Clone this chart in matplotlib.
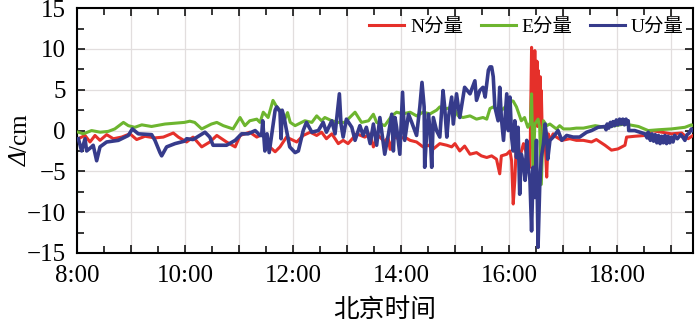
import matplotlib
matplotlib.use("Agg")
import matplotlib.pyplot as plt
from matplotlib.ticker import MultipleLocator, FixedLocator, FixedFormatter

plt.rcParams['font.family'] = ['Liberation Serif', 'Noto Sans CJK SC']
plt.rcParams['axes.unicode_minus'] = True

# ---------------- data (time in hours, value in cm) ----------------
n_time = [8.025, 8.148, 8.241, 8.333, 8.426, 8.549, 8.673, 8.827, 8.981, 9.105, 9.259, 9.444, 9.599,
          9.784, 9.877, 10.03, 10.15, 10.31, 10.46, 10.59, 10.77, 10.93, 11.02, 11.20, 11.33, 11.45,
          11.57, 11.67, 11.76, 11.88, 12.07, 12.19, 12.32, 12.44, 12.53, 12.62, 12.72, 12.84, 12.93,
          13.02, 13.18, 13.33, 13.43, 13.49, 13.58, 13.70, 13.76, 13.80, 13.86, 13.98, 14.07, 14.17,
          14.29, 14.41, 14.51, 14.60, 14.72, 14.85, 14.94, 15.00, 15.09, 15.18, 15.28, 15.40, 15.49,
          15.59, 15.68, 15.77, 15.83, 15.86, 15.96, 16.02, 16.05, 16.08, 16.11, 16.14, 16.20, 16.27,
          16.33, 16.39, 16.42, 16.43, 16.44, 16.45, 16.46, 16.47, 16.48, 16.49, 16.50, 16.51, 16.52,
          16.53, 16.54, 16.55, 16.56, 16.57, 16.58, 16.59, 16.60, 16.62, 16.64, 16.67, 16.70, 16.73,
          16.76, 16.82, 16.88, 16.98, 17.13, 17.25, 17.38, 17.53, 17.62, 17.78, 17.90, 18.02, 18.15,
          18.18, 18.33, 18.52, 18.64, 18.83, 19.01, 19.20, 19.32, 19.41]
n_vals = [-1.0, -0.6, -1.4, -0.6, -1.2, -0.5, -1.0, -0.8, -0.4, -1.1, -0.7, -0.9, -0.8,
          -0.3, -0.8, -1.4, -0.8, -2.0, -1.4, -0.6, -1.4, -2.0, -0.6, -0.2, -0.8, -0.4,
          -2.0, -2.6, -2.0, -0.8, -1.4, -0.6, -0.2, -0.6, -0.2, -1.0, -0.4, -1.6, -1.2,
          -1.6, -0.4, -0.8, -0.4, -2.0, -0.6, -1.4, -0.8, -2.3, -0.8, -1.0, -0.8, -1.2,
          -1.4, -2.0, -1.8, -2.25, -1.6, -1.8, -2.0, -1.6, -2.5, -1.9, -2.9, -2.7, -3.1,
          -3.3, -3.1, -3.5, -5.3, -3.1, -2.9, -2.5, -3.7, -9.0, -6.1, -1.2, -3.3, -1.6,
          -2.9, -4.5, 10.2, -2.0, 8.5, -1.0, 9.5, 0.0, 9.8, 1.0, 7.5, 2.9, 8.5,
          0.5, 7.4, 1.0, 6.5, 2.0, 6.6, 0.0, 4.9, -1.0, 0.8, -1.2, -5.7, -0.4,
          -1.2, -0.4, -0.8, -1.2, -1.0, -1.2, -1.2, -1.4, -1.1, -1.8, -2.4, -2.25, -1.8,
          -0.8, -0.7, -0.6, 0.0, -0.2, -0.4, -0.3, -1.0, -0.6]

e_time = [8.025, 8.117, 8.27, 8.43, 8.58, 8.70, 8.86, 8.95, 9.07, 9.20, 9.38, 9.63, 9.81, 9.99,
          10.09, 10.18, 10.31, 10.37, 10.49, 10.59, 10.71, 10.89, 11.02, 11.11, 11.20, 11.33,
          11.39, 11.45, 11.54, 11.63, 11.70, 11.76, 11.85, 11.90, 11.95, 12.04, 12.22, 12.35,
          12.44, 12.53, 12.59, 12.72, 12.84, 12.96, 13.15, 13.27, 13.40, 13.49, 13.55, 13.70,
          13.83, 13.92, 14.04, 14.17, 14.29, 14.41, 14.54, 14.66, 14.72, 14.78, 14.85, 14.97,
          15.06, 15.15, 15.28, 15.40, 15.52, 15.59, 15.65, 15.71, 15.77, 15.85, 15.95, 16.02,
          16.08, 16.14, 16.23, 16.29, 16.35, 16.40, 16.42, 16.45, 16.48, 16.54, 16.57, 16.60,
          16.64, 16.70, 16.76, 16.88, 16.94, 17.01, 17.13, 17.25, 17.38, 17.60, 17.78, 17.96,
          18.15, 18.40, 18.58, 18.77, 19.01, 19.26, 19.38, 19.41]
e_vals = [-0.2, -0.4, 0.0, -0.2, -0.1, 0.2, 1.0, 0.6, 0.4, 0.7, 0.5, 0.8, 0.9, 1.0,
          1.15, 1.0, 0.2, 0.4, 0.8, 1.0, 0.6, 0.2, 1.6, 0.6, 1.2, 1.4,
          1.0, 2.25, 1.6, 3.7, 2.9, 2.5, 1.4, 2.2, 1.0, 0.6, 1.2, 1.0,
          1.8, 1.2, 1.6, 1.2, 1.0, 1.0, 2.25, 1.0, 1.2, 2.0, 1.0, 0.6,
          1.8, 2.25, 2.05, 2.25, 1.8, 2.25, 2.05, 2.5, 2.9, 2.5, 2.7, 2.9,
          1.8, 1.6, 1.8, 1.4, 1.6, 1.4, 2.7, 2.9, 2.6, 2.4, 3.0, 3.7,
          3.6, 2.9, 1.2, 1.6, 0.4, 1.0, 4.5, -5.3, 0.8, 1.4, 0.4, -6.6,
          1.2, 0.6, 0.8, 0.2, 0.6, 0.2, 0.2, 0.3, 0.3, 0.6, 0.4, 0.6,
          0.8, 0.5, 0.0, 0.1, 0.2, 0.4, 0.7, 0.6]

u_time = [8.025, 8.086, 8.148, 8.179, 8.27, 8.30, 8.364, 8.426, 8.549, 8.765, 8.951, 9.025, 9.136,
          9.383, 9.444, 9.537, 9.568, 9.66, 9.815, 9.99, 10.03, 10.15, 10.37, 10.46, 10.52, 10.77,
          10.93, 11.05, 11.17, 11.30, 11.39, 11.42, 11.44, 11.48, 11.52, 11.56, 11.67, 11.70, 11.76,
          11.78, 11.80, 11.84, 11.87, 11.94, 12.04, 12.10, 12.19, 12.25, 12.35, 12.47, 12.56, 12.62,
          12.72, 12.78, 12.86, 12.89, 12.93, 12.99, 13.09, 13.15, 13.24, 13.30, 13.36, 13.43, 13.49,
          13.55, 13.61, 13.70, 13.77, 13.83, 13.86, 13.89, 13.92, 13.98, 14.03, 14.07, 14.14, 14.20,
          14.29, 14.35, 14.39, 14.43, 14.44, 14.48, 14.51, 14.54, 14.57, 14.60, 14.66, 14.72, 14.78,
          14.81, 14.85, 14.88, 14.94, 14.97, 15.03, 15.09, 15.18, 15.28, 15.37, 15.40, 15.46, 15.52,
          15.56, 15.62, 15.65, 15.68, 15.71, 15.74, 15.80, 15.83, 15.86, 15.90, 15.93, 15.96, 15.99,
          16.02, 16.05, 16.08, 16.11, 16.14, 16.17, 16.20, 16.23, 16.27, 16.30, 16.33, 16.36, 16.39,
          16.42, 16.45, 16.48, 16.51, 16.54, 16.57, 16.60, 16.64, 16.67, 16.70, 16.72, 16.76, 16.82,
          16.91, 16.98, 17.07, 17.19, 17.31, 17.44, 17.53, 17.65, 17.78, 17.80, 17.82, 17.85, 17.88,
          17.90, 17.93, 17.96, 17.99, 18.02, 18.05, 18.08, 18.11, 18.14, 18.17, 18.20, 18.21, 18.22,
          18.33, 18.52, 18.56, 18.58, 18.62, 18.65, 18.68, 18.71, 18.74, 18.77, 18.80, 18.83, 18.86,
          18.89, 18.92, 18.95, 18.98, 19.01, 19.04, 19.07, 19.12, 19.18, 19.22, 19.26, 19.30, 19.34,
          19.38, 19.41]
u_vals = [-1.0, -2.5, -1.0, -2.5, -2.0, -1.8, -3.7, -2.0, -1.4, -1.2, -0.6, 0.2, -0.4,
          -0.5, -1.2, -2.7, -3.1, -2.0, -1.6, -1.3, -1.0, -1.1, -0.2, -0.8, -1.8, -1.8,
          -1.2, -0.4, -0.4, 0.0, -0.6, -0.6, 1.2, -2.5, -0.4, -2.7, 2.5, 2.9, 2.3,
          -1.0, 2.5, 1.5, 0.4, -2.0, -2.7, -2.5, 0.0, 1.0, -0.2, 0.0, 1.0, -0.2,
          1.2, -0.4, 4.5, 0.8, -0.8, 1.4, 0.4, -1.2, 0.6, -0.6, 0.4, -1.6, 0.8,
          -1.8, 1.6, -2.9, -0.4, 2.0, -2.5, 1.6, 0.4, -2.9, 4.7, -1.2, 2.0, 1.0,
          -0.6, 2.9, 5.9, 2.9, -4.5, 0.0, 2.0, 0.0, -4.5, 1.6, 0.0, -0.8, 4.9,
          2.9, -0.8, 1.6, 4.1, 0.8, 4.5, 1.6, 5.3, 4.5, 6.1, 3.7, 4.9, 5.3,
          4.1, 7.4, 7.8, 7.8, 6.6, 2.9, 1.2, 5.3, 1.6, -1.2, 1.6, 4.5, 0.0,
          4.1, -0.8, -2.5, 1.2, -3.3, 0.4, -7.8, -2.9, -4.1, -6.1, -1.2, -4.5, -6.1,
          -12.3, -4.5, -8.2, -1.2, -14.3, -7.0, -3.3, -1.6, 0.8, -0.8, -3.5, -1.2, -0.8,
          0.0, -1.2, -0.6, -0.8, -0.8, -0.2, 0.0, 0.4, 0.5, 0.1, 0.8, 0.3, 1.0,
          0.5, 1.1, 0.6, 1.3, 0.7, 1.4, 0.8, 1.4, 0.7, 1.4, 0.8, 1.2, 0.0,
          0.0, -0.4, -0.9, -0.2, -1.2, -0.4, -1.3, -0.5, -1.5, -0.6, -1.6, -0.7, -1.5,
          -0.6, -1.6, -0.7, -1.5, -0.8, -1.4, -0.6, -1.0, -0.5, -0.8, -1.2, -0.5, -0.3,
          0.2, 0.0]

series_labels = ['N分量', 'E分量', 'U分量']
series_colors = ['#e5302a', '#6db52f', '#363b8b']

x_tick_hours = [8, 10, 12, 14, 16, 18]
x_tick_labels = ['8:00', '10:00', '12:00', '14:00', '16:00', '18:00']
y_ticks = [-15, -10, -5, 0, 5, 10, 15]

# ---------------- figure ----------------
fig = plt.figure(figsize=(7.0, 3.26), dpi=100)
ax = fig.add_axes([0.110, 0.224, 0.880, 0.751])

ax.plot(n_time, n_vals, color=series_colors[0], lw=2.2, label=series_labels[0], zorder=3)
ax.plot(e_time, e_vals, color=series_colors[1], lw=2.2, label=series_labels[1], zorder=4)
ax.plot(u_time, u_vals, color=series_colors[2], lw=2.6, label=series_labels[2], zorder=5)

ax.set_xlim(8.0, 19.41)
ax.set_ylim(-15, 15)

hours = list(range(8, 20))
ax.xaxis.set_major_locator(FixedLocator(hours))
ax.xaxis.set_major_formatter(FixedFormatter([x_tick_labels[x_tick_hours.index(h)] if h in x_tick_hours else '' for h in hours]))
ax.xaxis.set_minor_locator(MultipleLocator(0.5))
ax.yaxis.set_major_locator(FixedLocator(y_ticks))
ax.yaxis.set_minor_locator(MultipleLocator(2.5))

ax.grid(True, which='major', color='#e2dede', lw=0.9, zorder=0)
ax.tick_params(which='both', direction='in', top=True, right=True, width=1.1, labelsize=18, color='black')
ax.tick_params(which='major', length=6)
ax.tick_params(which='minor', length=5)
ax.tick_params(axis='x', pad=9)
ax.tick_params(axis='y', pad=8)
for s in ax.spines.values():
    s.set_linewidth(1.5)
    s.set_color('black')

ax.set_xlabel('北京时间', fontsize=18.5, labelpad=7, family=['Noto Sans CJK SC'])

# y label: italic Δ followed by upright "/cm"
ylab_x = 0.030
fig.text(ylab_x, 0.535, 'Δ', rotation=90, fontsize=18, fontstyle='italic',
         family=['Liberation Serif'], ha='center', va='top')
fig.text(ylab_x, 0.535, '/cm', rotation=90, fontsize=18,
         family=['Liberation Serif'], ha='center', va='bottom')

leg = ax.legend(loc='center right', bbox_to_anchor=(0.985, 0.925), ncol=3, frameon=False,
                fontsize=14, handlelength=1.8, handletextpad=0.3, columnspacing=0.9,
                borderpad=0, borderaxespad=0)
for line in leg.get_lines():
    line.set_linewidth(2.2)

fig.savefig('out.png', dpi=100)
